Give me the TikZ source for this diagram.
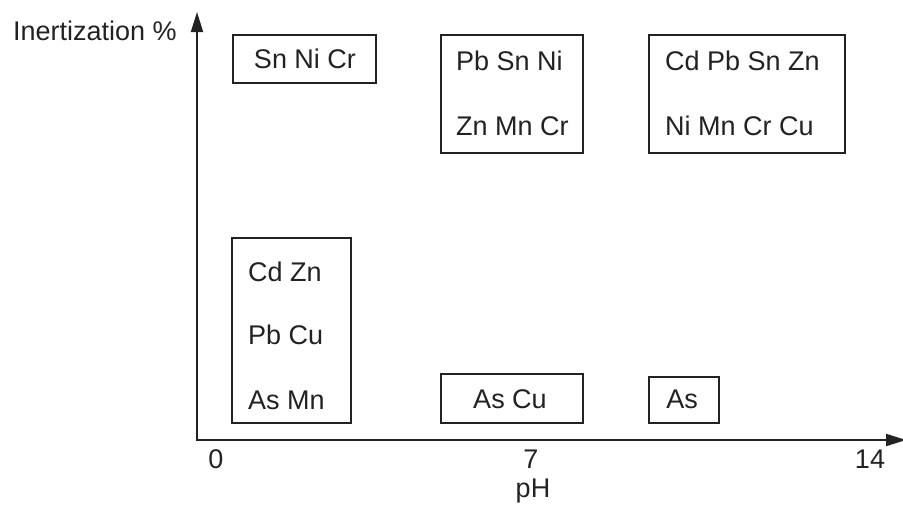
\documentclass[tikz,border=0pt]{standalone}
\usepackage{fontspec}
\setmainfont{Liberation Sans}
\usetikzlibrary{arrows.meta}
\definecolor{ink}{HTML}{222222}
\tikzset{
  lbl/.style={text=ink, inner sep=0pt, font=\fontsize{27}{30}\selectfont},
  grp/.style={draw=ink, line width=2pt, inner sep=0pt},
  axis/.style={draw=ink, line width=2pt, -{Triangle[length=20pt,width=12pt]}}
}
\begin{document}
\begin{tikzpicture}[x=1pt,y=-1pt]
  \useasboundingbox (0,0) rectangle (903,504);
  % axes
  \coordinate (o) at (197,440);
  \coordinate (ytip) at (197,12);
  \coordinate (xtip) at (906,440);
  \draw[axis] (o) -- (ytip);
  \draw[axis] ([xshift=-1pt]o) -- (xtip);
  % axis labels
  \node[lbl, anchor=base west] (ylab) at (13,40) {Inertization \%};
  \node[lbl, anchor=base] (t0) at (216,468) {0};
  \node[lbl, anchor=base] (t7) at (531,468) {7};
  \node[lbl, anchor=base] (t14) at (870,468) {14};
  \node[lbl, anchor=base] (xlab) at (533,497) {pH};
  % element groups: frames
  \node[grp, minimum width=143, minimum height=48] (g1) at (304,59) {};
  \node[grp, minimum width=142, minimum height=118] (g2) at (512,94) {};
  \node[grp, minimum width=196, minimum height=118] (g3) at (747,94) {};
  \node[grp, minimum width=119, minimum height=185] (g4) at (291.5,330.5) {};
  \node[grp, minimum width=142, minimum height=49] (g5) at (512,398.5) {};
  \node[grp, minimum width=70, minimum height=46] (g6) at (684,400) {};
  % element groups: symbols
  \node[lbl, anchor=base] (g1a) at (305,68) {Sn Ni Cr};
  \node[lbl, anchor=base west] (g2a) at (456,70) {Pb Sn Ni};
  \node[lbl, anchor=base west] (g2b) at (456,135) {Zn Mn Cr};
  \node[lbl, anchor=base west] (g3a) at (665,70) {Cd Pb Sn Zn};
  \node[lbl, anchor=base west] (g3b) at (665,135) {Ni Mn Cr Cu};
  \node[lbl, anchor=base west] (g4a) at (248,281) {Cd Zn};
  \node[lbl, anchor=base west] (g4b) at (248,344) {Pb Cu};
  \node[lbl, anchor=base west] (g4c) at (248,409) {As Mn};
  \node[lbl, anchor=base] (g5a) at (510,408) {As Cu};
  \node[lbl, anchor=base] (g6a) at (682,408) {As};
\end{tikzpicture}
\end{document}
